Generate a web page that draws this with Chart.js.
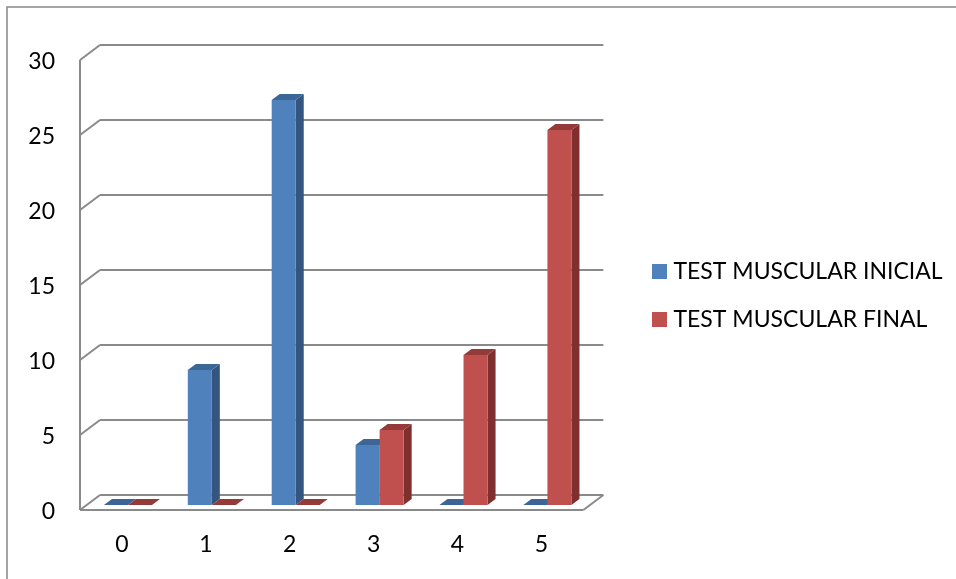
<!DOCTYPE html>
<html>
<head>
<meta charset="utf-8">
<title>Test muscular</title>
<script src="https://cdn.jsdelivr.net/npm/chart.js@4/dist/chart.umd.min.js"></script>
<style>
html, body { margin: 0; padding: 0; background: #fff; }
#wrap { width: 956px; height: 579px; }
</style>
</head>
<body>
<div id="wrap"><canvas id="testChart" width="956" height="579"></canvas></div>
<script>
var categories = ["0", "1", "2", "3", "4", "5"];
var inicialValues = [0, 9, 27, 4, 0, 0];
var finalValues = [0, 0, 0, 5, 10, 25];

var seriesColors = ["#4f81bd", "#c0504d"];
var fontName = "Lato, 'Open Sans', sans-serif";
var gridColor = "#8a8a8a";

// how far the back wall sits from the front of the plot
var wallX = 20, wallY = -15;
// bars stand a little way into the floor
var barShiftX = 6, barShiftY = -5;
// depth of each bar
var depthX = 8, depthY = -6;

var faceColors = [
    { side: "#34557f", top: "#3c6695" },
    { side: "#7f2f2d", top: "#943a38" }
];

function line(ctx, x1, y1, x2, y2) {
    ctx.beginPath();
    ctx.moveTo(x1, y1);
    ctx.lineTo(x2, y2);
    ctx.stroke();
}

function poly(ctx, pts, color) {
    ctx.fillStyle = color;
    ctx.beginPath();
    ctx.moveTo(pts[0][0], pts[0][1]);
    for (var i = 1; i < pts.length; i++) {
        ctx.lineTo(pts[i][0], pts[i][1]);
    }
    ctx.closePath();
    ctx.fill();
}

// legend gap is tied to the font size, so the swatch is a small canvas
function swatch(color) {
    var c = document.createElement("canvas");
    c.width = 15;
    c.height = 15;
    var g = c.getContext("2d");
    g.fillStyle = color;
    g.fillRect(0, 0, 15, 15);
    return c;
}

// outer frame and the 3d walls
var wallsPlugin = {
    id: "walls",
    beforeDatasetsDraw: function(chart) {
        var ctx = chart.ctx;
        var area = chart.chartArea;
        var y = chart.scales.y;
        ctx.save();

        ctx.strokeStyle = "#868686";
        ctx.lineWidth = 1.5;
        ctx.strokeRect(7, 7, 990, 640);

        ctx.strokeStyle = gridColor;
        ctx.lineWidth = 2;
        y.ticks.forEach(function(t) {
            var py = y.getPixelForValue(t.value);
            line(ctx, area.left, py, area.left + wallX, py + wallY);
            line(ctx, area.left + wallX, py + wallY, area.right + wallX, py + wallY);
        });
        line(ctx, area.left, area.top, area.left, area.bottom);
        line(ctx, area.left, area.bottom, area.right, area.bottom);
        line(ctx, area.right, area.bottom, area.right + wallX, area.bottom + wallY);
        ctx.restore();

        // side and top of each bar, the library draws the fronts after this
        // stays shifted until the fronts are done
        ctx.save();
        ctx.translate(barShiftX, barShiftY);
        chart.data.datasets.forEach(function(ds, d) {
            chart.getDatasetMeta(d).data.forEach(function(bar) {
                var half = bar.width / 2;
                var l = bar.x - half, r = bar.x + half;
                poly(ctx, [[r, bar.y], [r + depthX, bar.y + depthY], [r + depthX, bar.base + depthY], [r, bar.base]], faceColors[d].side);
                poly(ctx, [[l, bar.y], [l + depthX, bar.y + depthY], [r + depthX, bar.y + depthY], [r, bar.y]], faceColors[d].top);
            });
        });
    },
    afterDatasetsDraw: function(chart) {
        chart.ctx.restore();
    },
    afterLayout: function(chart) {
        // legend sits well clear of the plot
        chart.legend.left = 632;
        chart.legend.right = 956;
        chart.legend.top = 271 - chart.legend.height / 2;
    }
};

var chart = new Chart(document.getElementById("testChart").getContext("2d"), {
    type: "bar",
    data: {
        labels: categories,
        datasets: [
            { label: "TEST MUSCULAR INICIAL", data: inicialValues, backgroundColor: seriesColors[0] },
            { label: "TEST MUSCULAR FINAL", data: finalValues, backgroundColor: seriesColors[1] }
        ]
    },
    options: {
        responsive: false,
        animation: false,
        layout: { padding: { top: 60, right: 52, left: 0, bottom: 0 } },
        datasets: { bar: { barPercentage: 1, categoryPercentage: 0.573 } },
        scales: {
            x: {
                grid: { display: false },
                border: { display: false },
                ticks: { color: "#000", font: { family: fontName, size: 23 }, padding: 13 },
                afterFit: function(scale) { scale.height = 69; }
            },
            y: {
                min: 0,
                max: 30,
                grid: { display: false },
                border: { display: false },
                ticks: { stepSize: 5, color: "#000", font: { family: fontName, size: 23 }, padding: 17, labelOffset: 2 },
                afterFit: function(scale) { scale.width = 80; }
            }
        },
        plugins: {
            tooltip: { enabled: false },
            legend: {
                position: "right",
                maxWidth: 400,
                labels: {
                    color: "#000",
                    font: { family: fontName, size: 23 },
                    usePointStyle: true,
                    pointStyleWidth: 5,
                    boxHeight: 15,
                    padding: 25,
                    generateLabels: function(chart) {
                        return Chart.defaults.plugins.legend.labels.generateLabels(chart).map(function(item, i) {
                            item.pointStyle = swatch(seriesColors[i]);
                            return item;
                        });
                    }
                }
            }
        }
    },
    plugins: [wallsPlugin]
});
</script>
</body>
</html>
